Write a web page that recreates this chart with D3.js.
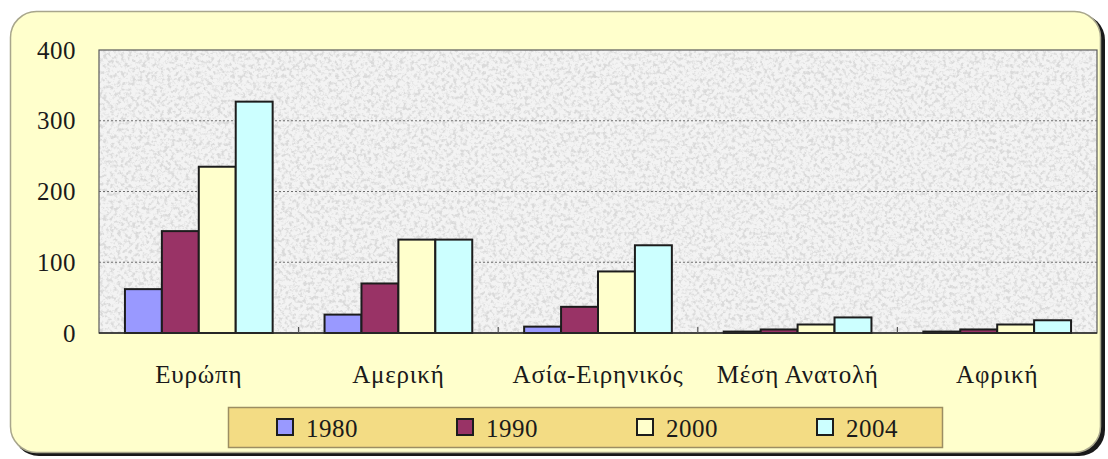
<!DOCTYPE html>
<html>
<head>
<meta charset="utf-8">
<script src="https://cdn.jsdelivr.net/npm/d3@7"></script>
<style>
  html, body { margin: 0; padding: 0; background: #fff; }
</style>
</head>
<body>
<svg id="chart" width="1108" height="459"></svg>
<script>
// data
const regions = ["Ευρώπη", "Αμερική", "Ασία-Ειρηνικός", "Μέση Ανατολή", "Αφρική"];
const years = ["1980", "1990", "2000", "2004"];
const v1980 = [62, 26, 9, 2, 2];
const v1990 = [144, 70, 37, 5, 5];
const v2000 = [235, 132, 87, 12, 12];
const v2004 = [327, 132, 124, 22, 18];
const yTicks = [0, 100, 200, 300, 400];

const colors = ["#9999ff", "#993366", "#ffffcc", "#ccffff"];
const seriesValues = [v1980, v1990, v2000, v2004];
const FONT = "'Liberation Serif', 'Times New Roman', serif";

const svg = d3.select("#chart");
const plot = { left: 99, right: 1097, top: 50, bottom: 333 };

// grainy texture for the plot area
const defs = svg.append("defs");
const noise = defs.append("filter").attr("id", "grain")
    .attr("x", 0).attr("y", 0).attr("width", "100%").attr("height", "100%");
noise.append("feTurbulence").attr("type", "fractalNoise")
    .attr("baseFrequency", 0.28).attr("numOctaves", 3).attr("seed", 7);
noise.append("feColorMatrix").attr("type", "matrix")
    .attr("values", "0 0 0 0 0.7  0 0 0 0 0.7  0 0 0 0 0.7  4 0 0 0 -1.85");

// frame with shadow
svg.append("rect")
    .attr("x", 13).attr("y", 14).attr("width", 1092).attr("height", 442)
    .attr("rx", 26).attr("fill", "#1a1a1a");
svg.append("rect")
    .attr("x", 10.5).attr("y", 11.5).attr("width", 1090).attr("height", 441)
    .attr("rx", 26).attr("fill", "#ffffcc").attr("stroke", "#a8a68c").attr("stroke-width", 1.5);

// plot area background
svg.append("rect")
    .attr("x", plot.left).attr("y", plot.top)
    .attr("width", plot.right - plot.left).attr("height", plot.bottom - plot.top)
    .attr("fill", "#f3f3f3");
svg.append("rect")
    .attr("x", plot.left).attr("y", plot.top)
    .attr("width", plot.right - plot.left).attr("height", plot.bottom - plot.top)
    .attr("filter", "url(#grain)");

// scales
const x0 = d3.scaleBand().domain(regions).range([plot.left, plot.right])
    .paddingInner(0.26).paddingOuter(0.13);
const x1 = d3.scaleBand().domain(years).range([0, x0.bandwidth()]);
const y = d3.scaleLinear().domain([0, 400]).range([plot.bottom, plot.top]);

// gridlines
svg.append("g")
    .selectAll("line")
    .data(yTicks.filter(d => d > 0 && d < 400))
    .join("line")
    .attr("x1", plot.left).attr("x2", plot.right)
    .attr("y1", d => y(d)).attr("y2", d => y(d))
    .attr("stroke", "#707070").attr("stroke-width", 1.2)
    .attr("stroke-dasharray", "2,2");

// plot border
svg.append("rect")
    .attr("x", plot.left).attr("y", plot.top)
    .attr("width", plot.right - plot.left).attr("height", plot.bottom - plot.top)
    .attr("fill", "none").attr("stroke", "#5a5a5a").attr("stroke-width", 1.2);

// bars
const rows = regions.map((r, i) => ({ region: r, vals: years.map((yr, j) => ({ year: yr, idx: j, value: seriesValues[j][i] })) }));
svg.append("g")
    .selectAll("g")
    .data(rows)
    .join("g")
    .attr("transform", d => `translate(${x0(d.region)},0)`)
    .selectAll("rect")
    .data(d => d.vals)
    .join("rect")
    .attr("x", d => x1(d.year))
    .attr("width", x1.bandwidth())
    .attr("y", d => y(d.value))
    .attr("height", d => y(0) - y(d.value))
    .attr("fill", d => colors[d.idx])
    .attr("stroke", "#1c1c1c").attr("stroke-width", 2);

// y axis labels
const yAxis = svg.append("g")
    .attr("transform", `translate(${plot.left},0)`)
    .call(d3.axisLeft(y).tickValues(yTicks).tickSize(0).tickPadding(23))
    .attr("font-family", FONT).attr("font-size", 25);
yAxis.select(".domain").remove();
yAxis.selectAll("text").attr("fill", "#1a1a1a").attr("letter-spacing", 0.5);

// x axis with inner ticks at category boundaries
const xAxis = svg.append("g").attr("transform", `translate(0,${plot.bottom})`)
    .attr("font-family", FONT).attr("font-size", 25);
xAxis.append("line")
    .attr("x1", plot.left).attr("x2", plot.right)
    .attr("stroke", "#2a2a2a").attr("stroke-width", 1.5);
const bounds = d3.range(1, regions.length).map(i => x0(regions[i]) - x0.step() * x0.paddingInner() / 2);
xAxis.selectAll("line.tick")
    .data(bounds)
    .join("line")
    .attr("class", "tick")
    .attr("x1", d => d).attr("x2", d => d)
    .attr("y1", 0).attr("y2", -6)
    .attr("stroke", "#555").attr("stroke-width", 1.2);
xAxis.selectAll("text")
    .data(regions)
    .join("text")
    .attr("x", d => x0(d) + x0.bandwidth() / 2)
    .attr("y", 50)
    .attr("text-anchor", "middle")
    .attr("letter-spacing", 0.8)
    .attr("fill", "#1a1a1a")
    .text(d => d);

// legend
const legend = svg.append("g").attr("font-family", FONT).attr("font-size", 25);
legend.append("rect")
    .attr("x", 228.5).attr("y", 407.5).attr("width", 714).attr("height", 40)
    .attr("fill", "#f3dc84").attr("stroke", "#9c8e62").attr("stroke-width", 1.5);
const items = legend.selectAll("g")
    .data(years)
    .join("g")
    .attr("transform", (d, i) => `translate(${277 + i * 180},419)`);
items.append("rect")
    .attr("width", 16).attr("height", 16)
    .attr("fill", (d, i) => colors[i])
    .attr("stroke", "#1c1c1c").attr("stroke-width", 2);
items.append("text")
    .attr("x", 29).attr("y", 18)
    .attr("letter-spacing", 0.5)
    .attr("fill", "#1a1a1a")
    .text(d => d);
</script>
</body>
</html>
